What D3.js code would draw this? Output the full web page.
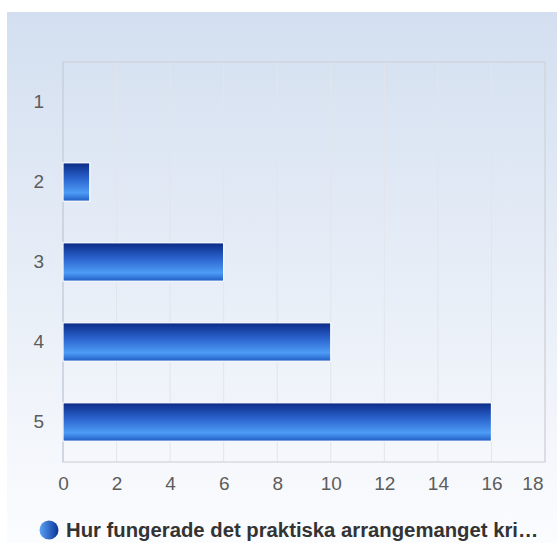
<!DOCTYPE html>
<html>
<head>
<meta charset="utf-8">
<script src="https://cdn.jsdelivr.net/npm/d3@7"></script>
<style>
  body { margin: 0; background: #fff; }
  svg { display: block; font-family: "Liberation Sans", Arial, sans-serif; }
</style>
</head>
<body>
<div id="chart"></div>
<script>
// data
const categories = ["1", "2", "3", "4", "5"];
const values = [0, 1, 6, 10, 16];
const xTicks = [0, 2, 4, 6, 8, 10, 12, 14, 16, 18];
const seriesName = "Hur fungerade det praktiska arrangemanget kri\u2026";

const W = 557, H = 543;
const margin = { top: 62, right: 12, bottom: 81, left: 63 };
const width = W - margin.left - margin.right;
const height = H - margin.top - margin.bottom;

const svg = d3.select("#chart").append("svg")
    .attr("width", W)
    .attr("height", H);

const defs = svg.append("defs");

// background panel gradient
const bg = defs.append("linearGradient").attr("id", "bg")
    .attr("x1", 0).attr("y1", 0).attr("x2", 0).attr("y2", 1);
bg.append("stop").attr("offset", "0%").attr("stop-color", "#d3dff0");
bg.append("stop").attr("offset", "100%").attr("stop-color", "#fbfcfe");

// bar gradient (vertical)
const barGrad = defs.append("linearGradient").attr("id", "barGrad")
    .attr("x1", 0).attr("y1", 0).attr("x2", 0).attr("y2", 1);
barGrad.append("stop").attr("offset", "0%").attr("stop-color", "#0b2a86");
barGrad.append("stop").attr("offset", "40%").attr("stop-color", "#2a62cc");
barGrad.append("stop").attr("offset", "78%").attr("stop-color", "#4e9cf6");
barGrad.append("stop").attr("offset", "100%").attr("stop-color", "#1f5cc4");

// legend marker gradient (horizontal)
const legGrad = defs.append("linearGradient").attr("id", "legGrad")
    .attr("x1", 0).attr("y1", 0).attr("x2", 1).attr("y2", 0);
legGrad.append("stop").attr("offset", "0%").attr("stop-color", "#5aa2f8");
legGrad.append("stop").attr("offset", "100%").attr("stop-color", "#0b3596");

svg.append("rect")
    .attr("x", 7).attr("y", 12)
    .attr("width", W - 7).attr("height", H - 12)
    .attr("fill", "url(#bg)");

const g = svg.append("g")
    .attr("transform", `translate(${margin.left},${margin.top})`);

const x = d3.scaleLinear()
    .domain([0, 18])
    .range([0, width]);

const y = d3.scaleBand()
    .domain(categories)
    .range([0, height])
    .paddingInner(0.52)
    .paddingOuter(0.26);

// vertical gridlines
g.selectAll(".grid")
    .data(xTicks)
    .enter()
    .append("line")
    .attr("class", "grid")
    .attr("x1", d => x(d))
    .attr("x2", d => x(d))
    .attr("y1", 0)
    .attr("y2", height)
    .attr("stroke", "#e2e5ea")
    .attr("stroke-width", 1);

// plot border
g.append("rect")
    .attr("x", 0).attr("y", 0)
    .attr("width", width).attr("height", height)
    .attr("fill", "none")
    .attr("stroke", "#cfd3d9")
    .attr("stroke-width", 1.2);

g.append("line")
    .attr("x1", 0).attr("x2", 0)
    .attr("y1", 0).attr("y2", height)
    .attr("stroke", "#c4d0e2");

// bars
g.selectAll(".bar")
    .data(values)
    .enter()
    .append("rect")
    .attr("class", "bar")
    .attr("x", x(0))
    .attr("y", (d, i) => y(categories[i]))
    .attr("width", d => x(d) - x(0))
    .attr("height", y.bandwidth())
    .attr("fill", "url(#barGrad)")
    .attr("stroke", d => d > 0 ? "#ffffff" : "none")
    .attr("stroke-width", 1.2);

// x axis labels
const xAxis = g.append("g")
    .attr("transform", `translate(0,${height})`)
    .call(d3.axisBottom(x).tickValues(xTicks).tickSize(0).tickPadding(15));
xAxis.select(".domain").remove();
xAxis.attr("font-size", null).attr("font-family", null);
xAxis.selectAll("text")
    .attr("font-size", "19px")
    .attr("fill", "#5c5c5c");
// last label is pulled inside the chart edge
xAxis.selectAll("text")
    .filter(d => d === xTicks[xTicks.length - 1])
    .attr("text-anchor", "end")
    .attr("dx", -2);

// y axis labels
const yAxis = g.append("g")
    .call(d3.axisLeft(y).tickSize(0).tickPadding(19));
yAxis.select(".domain").remove();
yAxis.attr("font-size", null).attr("font-family", null);
yAxis.selectAll("text")
    .attr("font-size", "19px")
    .attr("fill", "#5c5c5c");

// legend
const legend = svg.append("g").attr("transform", "translate(49,530)");
legend.append("circle")
    .attr("r", 9.5)
    .attr("fill", "url(#legGrad)");
legend.append("text")
    .attr("x", 17)
    .attr("dy", "0.35em")
    .attr("font-size", "20.3px")
    .attr("font-weight", "bold")
    .attr("fill", "#333")
    .text(seriesName);
</script>
</body>
</html>
